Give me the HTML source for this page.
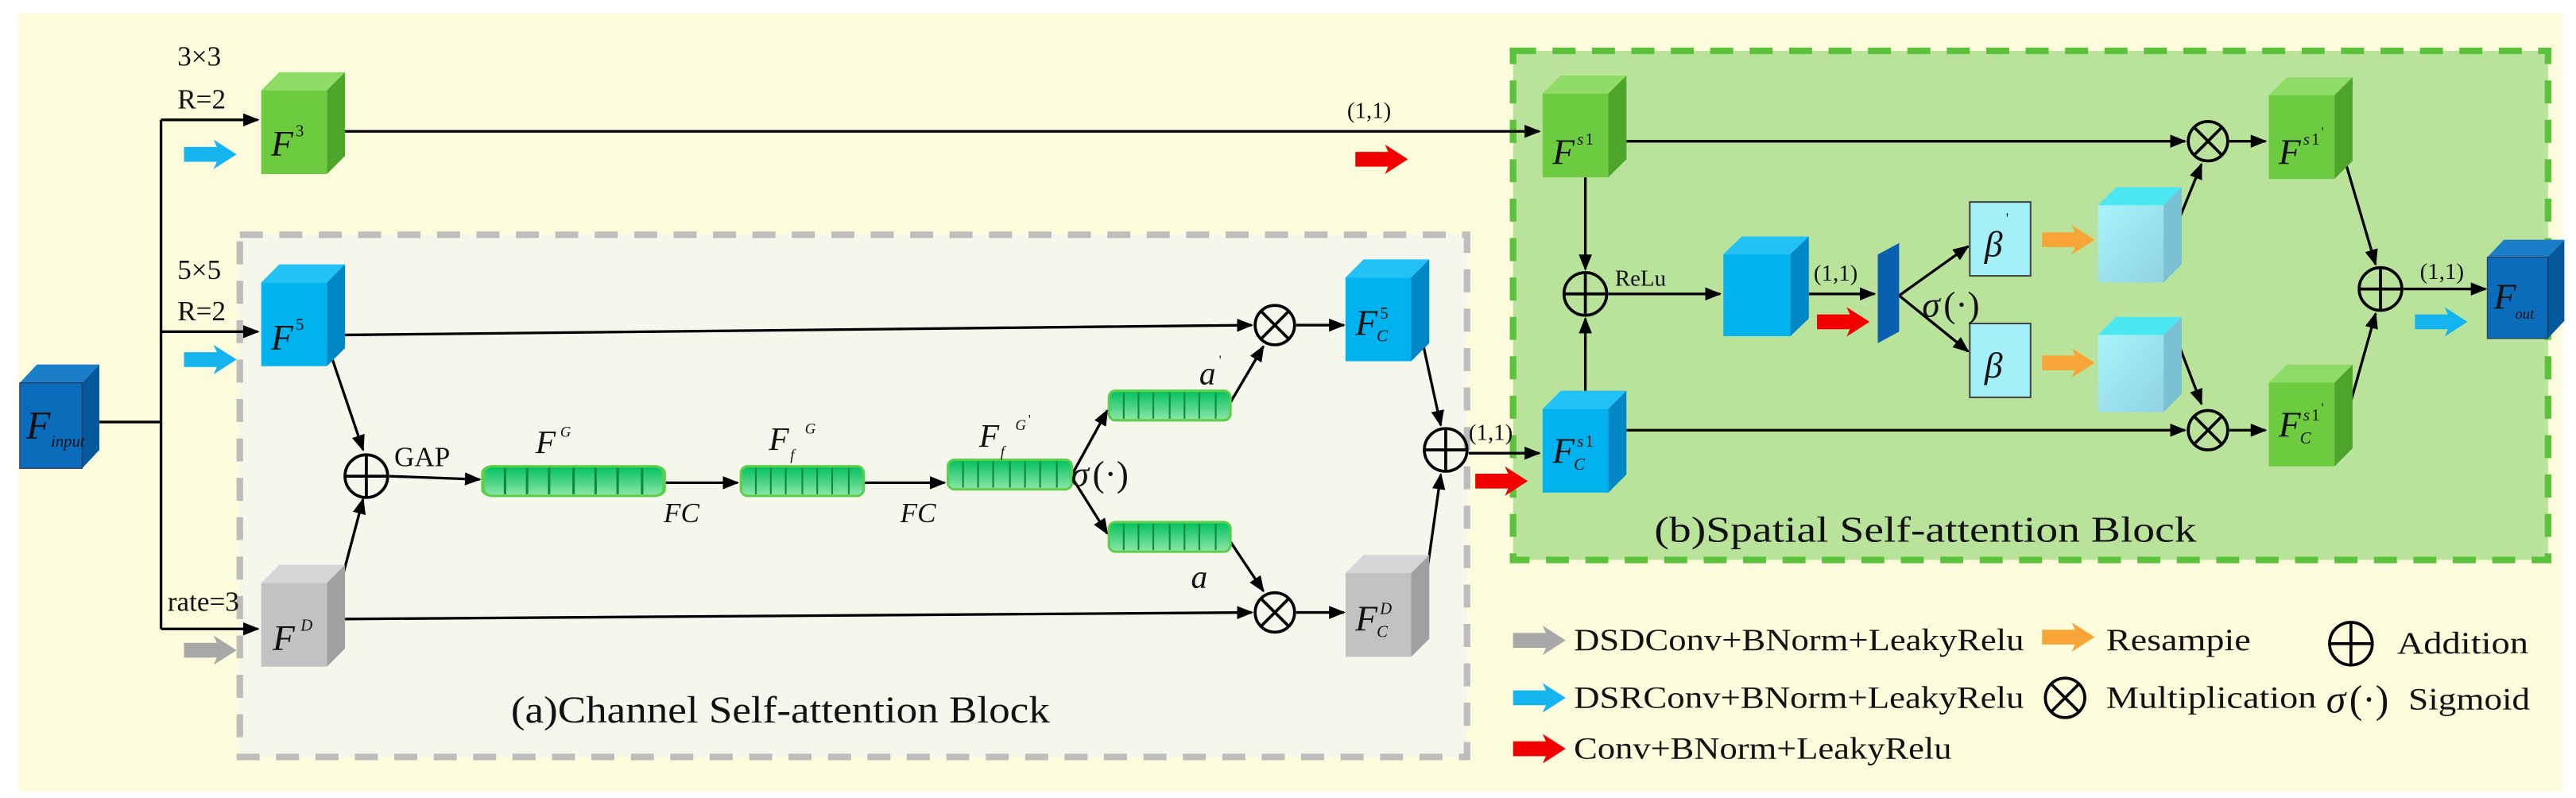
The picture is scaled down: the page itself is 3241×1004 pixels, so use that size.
<!DOCTYPE html>
<html><head><meta charset="utf-8"><style>
html,body{margin:0;padding:0;background:#fff;}
svg{display:block;font-family:"Liberation Serif","Times New Roman",serif;}
svg text{font-family:"Liberation Serif","Times New Roman",serif;fill:#111;}
.it{font-style:italic;}
</style></head><body>
<svg width="3241" height="1004" viewBox="0 0 1568 486" preserveAspectRatio="none" xmlns="http://www.w3.org/2000/svg" font-family="Liberation Serif, serif">
<defs>
<marker id="ah" markerWidth="10" markerHeight="8" refX="9" refY="4" orient="auto" markerUnits="userSpaceOnUse"><path d="M0,0 L10,4 L0,8 z" fill="#000"/></marker>
<linearGradient id="bar" x1="0" y1="0" x2="0" y2="1"><stop offset="0" stop-color="#00c060"/><stop offset="1" stop-color="#8ee6a8"/></linearGradient>
<linearGradient id="cy" x1="0" y1="0" x2="1" y2="1"><stop offset="0" stop-color="#a8f4fa"/><stop offset="1" stop-color="#90d2e4"/></linearGradient>
<g id="arr"><polygon points="0,-4.5 20,-4.5 18,-9 32,0 18,9 20,4.5 0,4.5"/></g>
<g id="barg"><rect x="0" y="0" width="74" height="18" rx="4" fill="url(#bar)" stroke="#5ccf4a" stroke-width="1.5"/><g stroke="#0a8a3a" stroke-width="1"><line x1="9" y1="1" x2="9" y2="17"/><line x1="18" y1="1" x2="18" y2="17"/><line x1="27" y1="1" x2="27" y2="17"/><line x1="37" y1="1" x2="37" y2="17"/><line x1="46" y1="1" x2="46" y2="17"/><line x1="55" y1="1" x2="55" y2="17"/><line x1="65" y1="1" x2="65" y2="17"/></g></g>
<g id="cg"><rect x="0" y="11" width="40" height="51" fill="#6ccb3e"/><polygon points="0,11 11,0 51,0 40,11" fill="#8edb68"/><polygon points="40,11 51,0 51,51 40,62" fill="#4ea52c"/></g>
<g id="cb"><rect x="0" y="11" width="40" height="51" fill="#00b2ee"/><polygon points="0,11 11,0 51,0 40,11" fill="#22c2f6"/><polygon points="40,11 51,0 51,51 40,62" fill="#0088c6"/></g>
<g id="cgr"><rect x="0" y="11" width="40" height="51" fill="#c2c2c2"/><polygon points="0,11 11,0 51,0 40,11" fill="#d6d6d6"/><polygon points="40,11 51,0 51,51 40,62" fill="#a0a0a0"/></g>
<g id="cd"><rect x="0" y="11" width="40" height="51" fill="#0b6cbc"/><polygon points="0,11 11,0 51,0 40,11" fill="#1b7ec8"/><polygon points="40,11 51,0 51,51 40,62" fill="#06589c"/><rect x="0" y="11" width="40" height="51" fill="none" stroke="#335" stroke-width="0.6"/></g>
<g id="cc"><rect x="0" y="11" width="40" height="47" fill="url(#cy)"/><polygon points="0,11 11,0 51,0 40,11" fill="#4ce8f2"/><polygon points="40,11 51,0 51,47 40,58" fill="#7cc0d4"/></g>
<g id="plus"><circle r="13" fill="none" stroke="#000" stroke-width="1.8"/><line x1="-13" y1="0" x2="13" y2="0" stroke="#000" stroke-width="1.8"/><line x1="0" y1="-13" x2="0" y2="13" stroke="#000" stroke-width="1.8"/></g>
<g id="mul"><circle r="12" fill="none" stroke="#000" stroke-width="1.8"/><line x1="-8.5" y1="-8.5" x2="8.5" y2="8.5" stroke="#000" stroke-width="1.8"/><line x1="-8.5" y1="8.5" x2="8.5" y2="-8.5" stroke="#000" stroke-width="1.8"/></g>
</defs>

<rect x="0" y="0" width="1568" height="486" fill="#fff"/>
<rect x="11" y="8" width="1549" height="474" fill="#fcfcdc"/>

<rect x="146" y="143" width="747" height="318" fill="#f5f6ec" stroke="#bdbdbd" stroke-width="4" stroke-dasharray="14,10"/>
<rect x="921" y="31" width="630" height="310" fill="#b9e39b" stroke="#5cc23c" stroke-width="4" stroke-dasharray="14,10"/>

<g stroke="#000" stroke-width="1.6" fill="none">
<polyline points="60,257 98,257"/>
<polyline points="98,73 98,383"/>
<line x1="98" y1="73" x2="157" y2="73" marker-end="url(#ah)"/>
<line x1="98" y1="202" x2="157" y2="202" marker-end="url(#ah)"/>
<line x1="98" y1="383" x2="157" y2="383" marker-end="url(#ah)"/>
<line x1="210" y1="80" x2="937" y2="80" marker-end="url(#ah)"/>
<line x1="210" y1="204" x2="762" y2="198" marker-end="url(#ah)"/>
<line x1="210" y1="377" x2="762" y2="373" marker-end="url(#ah)"/>
<line x1="200" y1="212" x2="221" y2="274" marker-end="url(#ah)"/>
<line x1="200" y1="383" x2="221" y2="304" marker-end="url(#ah)"/>
<line x1="237" y1="290" x2="292" y2="292" marker-end="url(#ah)"/>
<line x1="404" y1="294" x2="449" y2="294" marker-end="url(#ah)"/>
<line x1="526" y1="294" x2="575" y2="294" marker-end="url(#ah)"/>
<line x1="652" y1="290" x2="674" y2="250" marker-end="url(#ah)"/>
<line x1="652" y1="290" x2="674" y2="325" marker-end="url(#ah)"/>
<line x1="749" y1="245" x2="769" y2="211" marker-end="url(#ah)"/>
<line x1="749" y1="330" x2="769" y2="360" marker-end="url(#ah)"/>
<line x1="789" y1="198" x2="818" y2="198" marker-end="url(#ah)"/>
<line x1="789" y1="373" x2="818" y2="373" marker-end="url(#ah)"/>
<line x1="863" y1="195" x2="877" y2="259" marker-end="url(#ah)"/>
<line x1="863" y1="388" x2="877" y2="289" marker-end="url(#ah)"/>
<line x1="894" y1="276" x2="937" y2="276" marker-end="url(#ah)"/>
<line x1="990" y1="86" x2="1330" y2="86" marker-end="url(#ah)"/>
<line x1="990" y1="262" x2="1330" y2="262" marker-end="url(#ah)"/>
<line x1="965" y1="108" x2="965" y2="164" marker-end="url(#ah)"/>
<line x1="965" y1="238" x2="965" y2="194" marker-end="url(#ah)"/>
<line x1="979" y1="179" x2="1047" y2="179" marker-end="url(#ah)"/>
<line x1="1101" y1="179" x2="1141" y2="179" marker-end="url(#ah)"/>
<line x1="1156" y1="180" x2="1198" y2="150" marker-end="url(#ah)"/>
<line x1="1156" y1="180" x2="1198" y2="214" marker-end="url(#ah)"/>
<line x1="1327" y1="132" x2="1340" y2="100" marker-end="url(#ah)"/>
<line x1="1327" y1="212" x2="1340" y2="246" marker-end="url(#ah)"/>
<line x1="1357" y1="86" x2="1379" y2="86" marker-end="url(#ah)"/>
<line x1="1357" y1="262" x2="1379" y2="262" marker-end="url(#ah)"/>
<line x1="1428" y1="100" x2="1446" y2="161" marker-end="url(#ah)"/>
<line x1="1428" y1="255" x2="1446" y2="191" marker-end="url(#ah)"/>
<line x1="1463" y1="176" x2="1513" y2="176" marker-end="url(#ah)"/>
</g>

<use href="#cd" transform="translate(12,222) scale(0.95,1.02)"/>
<use href="#cg" transform="translate(159,44)"/>
<use href="#cb" transform="translate(159,161)"/>
<use href="#cgr" transform="translate(159,344)"/>
<use href="#cb" transform="translate(819,158)"/>
<use href="#cgr" transform="translate(819,338)"/>
<use href="#cg" transform="translate(939,46)"/>
<use href="#cb" transform="translate(939,238)"/>
<use href="#cb" transform="translate(1049,144) scale(1.02,0.98)"/>
<use href="#cg" transform="translate(1381,47)"/>
<use href="#cg" transform="translate(1381,222)"/>
<use href="#cc" transform="translate(1277,114)"/>
<use href="#cc" transform="translate(1277,193)"/>
<use href="#cd" transform="translate(1514,146) scale(0.92,0.97)"/>
<polygon points="1143,155 1156,148 1156,202 1143,209" fill="#0b5fb0"/>
<rect x="1199" y="123" width="37" height="45" fill="#a4f0f8" stroke="#444" stroke-width="1"/>
<rect x="1199" y="197" width="37" height="45" fill="#a4f0f8" stroke="#444" stroke-width="1"/>
<text x="1208" y="156" class="it" font-size="22">β</text><text x="1221" y="136" font-size="9">'</text>
<text x="1208" y="230" class="it" font-size="22">β</text>

<use href="#barg" transform="translate(294,284) scale(1.49,1)"/>
<use href="#barg" transform="translate(451,284) scale(1.01,1)"/>
<use href="#barg" transform="translate(577,280) scale(1.02,1)"/>
<use href="#barg" transform="translate(675,238)"/>
<use href="#barg" transform="translate(675,318)"/>

<use href="#plus" transform="translate(223,290)"/>
<use href="#plus" transform="translate(880,274)"/>
<use href="#mul" transform="translate(776,198)"/>
<use href="#mul" transform="translate(776,373)"/>
<use href="#plus" transform="translate(965,179)"/>
<use href="#plus" transform="translate(1449,176)"/>
<use href="#mul" transform="translate(1344,86)"/>
<use href="#mul" transform="translate(1344,262)"/>

<use href="#arr" fill="#14b4ee" transform="translate(112,94)"/>
<use href="#arr" fill="#14b4ee" transform="translate(112,219)"/>
<use href="#arr" fill="#a8a8a8" transform="translate(112,396)"/>
<use href="#arr" fill="#f20000" transform="translate(825,97)"/>
<use href="#arr" fill="#f20000" transform="translate(898,293)"/>
<use href="#arr" fill="#f20000" transform="translate(1106,196)"/>
<use href="#arr" fill="#f9a436" transform="translate(1243,146)"/>
<use href="#arr" fill="#f9a436" transform="translate(1243,221)"/>
<use href="#arr" fill="#14b4ee" transform="translate(1470,196)"/>

<text x="108" y="40" font-size="17">3×3</text>
<text x="108" y="66" font-size="17">R=2</text>
<text x="108" y="170" font-size="17">5×5</text>
<text x="108" y="195" font-size="17">R=2</text>
<text x="102" y="372" font-size="17">rate=3</text>
<text x="16" y="267" class="it" font-size="24">F</text><text x="31" y="272" class="it" font-size="10">input</text>
<text x="165" y="95" class="it" font-size="22">F</text><text x="180" y="83" font-size="10">3</text>
<text x="165" y="213" class="it" font-size="22">F</text><text x="180" y="201" font-size="10">5</text>
<text x="166" y="396" class="it" font-size="22">F</text><text x="183" y="384" class="it" font-size="10">D</text>
<text x="825" y="204" class="it" font-size="22">F</text><text x="840" y="194" font-size="10">5</text><text x="838" y="208" class="it" font-size="10">C</text>
<text x="825" y="384" class="it" font-size="22">F</text><text x="840" y="374" class="it" font-size="10">D</text><text x="838" y="388" class="it" font-size="10">C</text>
<text x="240" y="284" font-size="17">GAP</text>
<text x="326" y="276" class="it" font-size="20">F</text><text x="341" y="266" class="it" font-size="9">G</text>
<text x="404" y="318" class="it" font-size="17">FC</text>
<text x="548" y="318" class="it" font-size="17">FC</text>
<text x="468" y="274" class="it" font-size="20">F</text><text x="481" y="280" class="it" font-size="9">f</text><text x="490" y="264" class="it" font-size="9">G</text>
<text x="596" y="272" class="it" font-size="20">F</text><text x="609" y="278" class="it" font-size="9">f</text><text x="618" y="262" class="it" font-size="9">G</text><text x="626" y="258" font-size="8">'</text>
<text x="652" y="296" class="it" font-size="22">σ</text><text x="665" y="296" font-size="22">(·)</text>
<text x="730" y="234" class="it" font-size="20">a</text><text x="742" y="222" font-size="8">'</text>
<text x="725" y="358" class="it" font-size="20">a</text>
<text x="894" y="268" font-size="14">(1,1)</text>
<text x="820" y="72" font-size="14">(1,1)</text>
<text x="311" y="440" font-size="23" textLength="328" lengthAdjust="spacingAndGlyphs">(a)Channel Self-attention Block</text>

<text x="945" y="100" class="it" font-size="22">F</text><text x="960" y="88" class="it" font-size="10">s</text><text x="965" y="88" font-size="10">1</text>
<text x="945" y="282" class="it" font-size="22">F</text><text x="960" y="272" class="it" font-size="10">s</text><text x="965" y="272" font-size="10">1</text><text x="958" y="286" class="it" font-size="10">C</text>
<text x="1387" y="100" class="it" font-size="22">F</text><text x="1402" y="88" class="it" font-size="10">s</text><text x="1407" y="88" font-size="10">1</text><text x="1413" y="83" font-size="8">'</text>
<text x="1387" y="266" class="it" font-size="22">F</text><text x="1402" y="256" class="it" font-size="10">s</text><text x="1407" y="256" font-size="10">1</text><text x="1413" y="251" font-size="8">'</text><text x="1400" y="270" class="it" font-size="10">C</text>
<text x="1518" y="188" class="it" font-size="22">F</text><text x="1531" y="194" class="it" font-size="9">out</text>
<text x="983" y="174" font-size="14">ReLu</text>
<text x="1104" y="171" font-size="14">(1,1)</text>
<text x="1170" y="193" class="it" font-size="22">σ</text><text x="1183" y="193" font-size="22">(·)</text>
<text x="1473" y="170" font-size="14">(1,1)</text>
<text x="1007" y="330" font-size="22" textLength="330" lengthAdjust="spacingAndGlyphs">(b)Spatial  Self-attention Block</text>

<use href="#arr" fill="#a8a8a8" transform="translate(921,390)"/>
<use href="#arr" fill="#14b4ee" transform="translate(921,425)"/>
<use href="#arr" fill="#f20000" transform="translate(921,456)"/>
<use href="#arr" fill="#f9a436" transform="translate(1243,388)"/>
<text x="958" y="396" font-size="19" textLength="274" lengthAdjust="spacingAndGlyphs">DSDConv+BNorm+LeakyRelu</text>
<text x="958" y="431" font-size="19" textLength="274" lengthAdjust="spacingAndGlyphs">DSRConv+BNorm+LeakyRelu</text>
<text x="958" y="462" font-size="19" textLength="230" lengthAdjust="spacingAndGlyphs">Conv+BNorm+LeakyRelu</text>
<text x="1282" y="396" font-size="19" textLength="88" lengthAdjust="spacingAndGlyphs">Resampie</text>
<use href="#mul" transform="translate(1257,425)"/>
<text x="1282" y="431" font-size="19" textLength="128" lengthAdjust="spacingAndGlyphs">Multiplication</text>
<use href="#plus" transform="translate(1431,392)"/>
<text x="1459" y="398" font-size="19" textLength="80" lengthAdjust="spacingAndGlyphs">Addition</text>
<text x="1416" y="434" class="it" font-size="24">σ</text><text x="1430" y="434" font-size="24">(·)</text>
<text x="1466" y="432" font-size="19" textLength="74" lengthAdjust="spacingAndGlyphs">Sigmoid</text>
</svg>
</body></html>
